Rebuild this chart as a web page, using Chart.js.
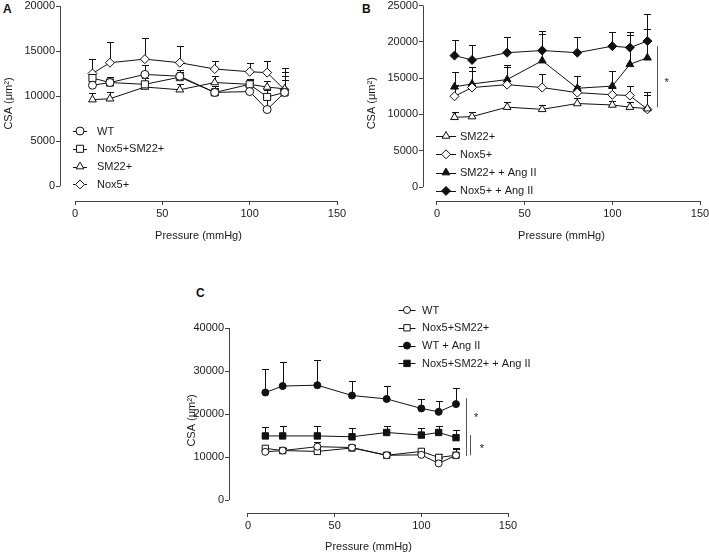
<!DOCTYPE html>
<html>
<head>
<meta charset="UTF-8">
<title>CSA vs pressure</title>
<script src="https://cdn.jsdelivr.net/npm/chart.js"></script>
<style>
  body { margin:0; background:#fff; width:709px; height:553px; overflow:hidden; position:relative; }
  canvas { position:absolute; }
  .tag { position:absolute; font:bold 12px "Liberation Sans", Arial, sans-serif; line-height:12px; color:#111; }
</style>
</head>
<body>
<div class="tag" style="left:3px;top:3px">A</div>
<div class="tag" style="left:362px;top:3px">B</div>
<div class="tag" style="left:196px;top:287px">C</div>
<canvas id="chartA" width="355" height="250" style="left:0;top:0"></canvas>
<canvas id="chartB" width="354" height="250" style="left:355px;top:0"></canvas>
<canvas id="chartC" width="370" height="280" style="left:170px;top:280px"></canvas>

<script>
// pressure steps (mmHg)
const pressure = [10, 20, 40, 60, 80, 100, 110, 120];
const xTicks = [0, 50, 100, 150];
const yTicksA = [0, 5000, 10000, 15000, 20000];
const yTicksB = [0, 5000, 10000, 15000, 20000, 25000];
const yTicksC = [0, 10000, 20000, 30000, 40000];

// means and SEM (upper bar only)
const wtMean      = [11200, 11500, 12400, 12200, 10400, 10500, 8500, 10400];
const wtErr       = [800, 600, 1000, 700, 700, 900, 1300, 1800];
const dblMean     = [12000, 11500, 11300, 12100, 10400, 11300, 9900, 10400];
const dblErr      = [600, 600, 700, 600, 500, 500, 800, 1400];
const smMean      = [9600, 9700, 11000, 10700, 11500, 11300, 11000, 10800];
const smErr       = [700, 700, 700, 600, 700, 600, 700, 1900];
const noxMean     = [12500, 13700, 14100, 13700, 13000, 12700, 12600, 10700];
const noxErr      = [1600, 2300, 2400, 1900, 900, 1000, 1300, 2400];
const smAngMean   = [13800, 14200, 14800, 17400, 13600, 13900, 16900, 17800];
const smAngErr    = [2100, 2300, 2000, 3700, 1700, 2100, 4100, 4000];
const noxAngMean  = [18100, 17500, 18500, 18800, 18500, 19400, 19200, 20100];
const noxAngErr   = [2200, 2000, 2200, 2700, 2100, 2000, 2100, 3700];
const wtAngMean   = [25000, 26500, 26700, 24300, 23500, 21300, 20500, 22300];
const wtAngErr    = [5400, 5700, 5900, 3400, 3100, 2300, 2500, 3700];
const dblAngMean  = [14900, 14900, 14900, 14700, 15700, 15100, 15700, 14500];
const dblAngErr   = [2100, 2200, 2300, 2100, 1500, 1600, 1500, 1800];

// significance brackets: [x, yFrom, yTo] and stars [x, y]
const sigLinesB = [[125.5, 11000, 19400]];
const sigStarsB = [[131, 14800]];
const sigLinesC = [[125.8, 10200, 23700], [128.1, 10400, 15100]];
const sigStarsC = [[131.6, 19800], [135, 12600]];

const INK = '#111';
const AXIS = '#444';
const FONT = '"Liberation Sans", Arial, sans-serif';
Chart.defaults.font.family = FONT;
Chart.defaults.font.size = 11;
Chart.defaults.color = '#1a1a1a';

function series(label, mean, err, style, filled, r) {
    return {
        label: label,
        data: pressure.map((p, i) => ({ x: p, y: mean[i] })),
        errors: err,
        showLine: true,
        borderColor: INK,
        borderWidth: 1,
        tension: 0,
        pointStyle: style,
        pointRadius: r,
        pointBorderWidth: 1,
        pointBorderColor: INK,
        pointBackgroundColor: filled ? INK : '#fff',
        clip: false
    };
}

function marker(ctx, ds, x, y) {
    ctx.fillStyle = ds.pointBackgroundColor;
    ctx.strokeStyle = INK;
    ctx.lineWidth = 1;
    if (Chart.helpers && Chart.helpers.drawPoint) {
        Chart.helpers.drawPoint(ctx, { pointStyle: ds.pointStyle, radius: ds.pointRadius, borderWidth: 1, rotation: 0 }, x, y);
        return;
    }
    const r = ds.pointRadius;
    ctx.beginPath();
    if (ds.pointStyle === 'circle') ctx.arc(x, y, r, 0, Math.PI * 2);
    else if (ds.pointStyle === 'rect') ctx.rect(x - r * 0.707, y - r * 0.707, r * 1.414, r * 1.414);
    else if (ds.pointStyle === 'rectRot') { ctx.moveTo(x, y - r); ctx.lineTo(x + r, y); ctx.lineTo(x, y + r); ctx.lineTo(x - r, y); ctx.closePath(); }
    else { ctx.moveTo(x, y - r); ctx.lineTo(x + r * 0.866, y + r / 2); ctx.lineTo(x - r * 0.866, y + r / 2); ctx.closePath(); }
    ctx.fill(); ctx.stroke();
}

// upward SEM bars with caps, under the markers
const errorBars = {
    id: 'errorBars',
    beforeDatasetsDraw(chart) {
        const ctx = chart.ctx, xs = chart.scales.x, ys = chart.scales.y;
        ctx.save();
        ctx.strokeStyle = INK;
        ctx.lineWidth = 1;
        chart.data.datasets.forEach(ds => {
            ds.data.forEach((pt, i) => {
                const px = Math.round(xs.getPixelForValue(pt.x)) + 0.5;
                const y0 = ys.getPixelForValue(pt.y);
                const y1 = Math.round(ys.getPixelForValue(pt.y + ds.errors[i])) + 0.5;
                ctx.beginPath();
                ctx.moveTo(px, y0); ctx.lineTo(px, y1);
                ctx.moveTo(px - 3.5, y1); ctx.lineTo(px + 3.5, y1);
                ctx.stroke();
            });
        });
        ctx.restore();
    }
};

// detached axis lines, Prism style
const prismAxes = {
    id: 'prismAxes',
    afterDraw(chart) {
        const ctx = chart.ctx, xs = chart.scales.x, ys = chart.scales.y;
        const ax = Math.round(chart.chartArea.left) + 0.5;
        const ay = Math.round(chart.chartArea.bottom) + 0.5;
        ctx.save();
        ctx.strokeStyle = AXIS;
        ctx.lineWidth = 1;
        ctx.beginPath();
        ctx.moveTo(ax, ys.getPixelForValue(0)); ctx.lineTo(ax, ys.getPixelForValue(ys.max));
        ctx.moveTo(xs.getPixelForValue(0), ay); ctx.lineTo(xs.getPixelForValue(xs.max), ay);
        ctx.stroke();
        ctx.restore();
    }
};

// legend with line through marker
const prismLegend = {
    id: 'prismLegend',
    afterDraw(chart, args, o) {
        const ctx = chart.ctx;
        ctx.save();
        chart.data.datasets.forEach((ds, i) => {
            const y = o.y + i * o.gap;
            ctx.strokeStyle = INK;
            ctx.lineWidth = 1;
            ctx.beginPath();
            ctx.moveTo(o.x - o.half, Math.round(y) + 0.5);
            ctx.lineTo(o.x + o.half, Math.round(y) + 0.5);
            ctx.stroke();
            marker(ctx, ds, o.x, y);
            ctx.fillStyle = '#1a1a1a';
            ctx.font = '11px ' + FONT;
            ctx.textBaseline = 'middle';
            ctx.fillText(ds.label, o.textX, y + 0.5);
        });
        ctx.restore();
    }
};

const sigMarks = {
    id: 'sigMarks',
    afterDraw(chart, args, o) {
        if (!o.lines) return;
        const ctx = chart.ctx, xs = chart.scales.x, ys = chart.scales.y;
        ctx.save();
        ctx.strokeStyle = '#555';
        ctx.lineWidth = 1;
        o.lines.forEach(l => {
            const px = Math.round(xs.getPixelForValue(l[0])) + 0.5;
            ctx.beginPath();
            ctx.moveTo(px, ys.getPixelForValue(l[1]));
            ctx.lineTo(px, ys.getPixelForValue(l[2]));
            ctx.stroke();
        });
        ctx.fillStyle = '#1a1a1a';
        ctx.font = '11px ' + FONT;
        ctx.textAlign = 'center';
        ctx.textBaseline = 'middle';
        o.stars.forEach(s => ctx.fillText('*', xs.getPixelForValue(s[0]), ys.getPixelForValue(s[1]) + 3));
        ctx.restore();
    }
};

function scales(c) {
    return {
        x: {
            type: 'linear', min: c.xMin, max: 150,
            afterBuildTicks: s => { s.ticks = xTicks.map(v => ({ value: v })); },
            afterFit: s => { s.height = c.xH; s.paddingLeft = 0; s.paddingRight = 0; },
            border: { display: false },
            grid: { drawOnChartArea: false, drawTicks: true, tickLength: 4, color: AXIS },
            ticks: { autoSkip: false, maxRotation: 0, padding: 2, callback: v => String(v) },
            title: { display: true, text: 'Pressure (mmHg)', padding: { top: 0, bottom: c.xTitlePad } }
        },
        y: {
            min: c.yMin, max: c.yTicks[c.yTicks.length - 1],
            afterBuildTicks: s => { s.ticks = c.yTicks.map(v => ({ value: v })); },
            afterFit: s => { s.width = c.yW; s.paddingTop = 0; s.paddingBottom = 0; },
            border: { display: false },
            grid: { drawOnChartArea: false, drawTicks: true, tickLength: 4, color: AXIS },
            ticks: { autoSkip: false, padding: 1, callback: v => String(v) },
            title: { display: true, text: c.yTitle, padding: { top: c.yTitlePad, bottom: 0 } }
        }
    };
}

function makeChart(id, datasets, c, legend, sig) {
    new Chart(document.getElementById(id), {
        type: 'scatter',
        data: { datasets: datasets },
        options: {
            responsive: false,
            animation: false,
            events: [],
            layout: { padding: c.pad },
            scales: scales(c),
            plugins: {
                legend: { display: false },
                tooltip: { enabled: false },
                prismLegend: legend,
                sigMarks: sig
            }
        },
        plugins: [errorBars, prismAxes, prismLegend, sigMarks]
    });
}

makeChart('chartA', [
    series('WT', wtMean, wtErr, 'circle', false, 4),
    series('Nox5+SM22+', dblMean, dblErr, 'rect', false, 5),
    series('SM22+', smMean, smErr, 'triangle', false, 4.5),
    series('Nox5+', noxMean, noxErr, 'rectRot', false, 4.5)
], { xMin: -8.59, yMin: -1657, yTicks: yTicksA, yW: 60, xH: 49, xTitlePad: 7, yTitlePad: 2,
     yTitle: 'CSA (μm²)', pad: { top: 5, left: 0, right: 18, bottom: 0 } },
   { x: 80, y: 131, gap: 17.8, half: 7, textX: 97 }, {});

makeChart('chartB', [
    series('SM22+', smMean, smErr, 'triangle', false, 4.5),
    series('Nox5+', noxMean, noxErr, 'rectRot', false, 4.5),
    series('SM22+ + Ang II', smAngMean, smAngErr, 'triangle', true, 4.5),
    series('Nox5+ + Ang II', noxAngMean, noxAngErr, 'rectRot', true, 4.5)
], { xMin: -7.98, yMin: -1923, yTicks: yTicksB, yW: 68, xH: 49, xTitlePad: 7, yTitlePad: 10,
     yTitle: 'CSA (μm²)', pad: { top: 5, left: 0, right: 9, bottom: 0 } },
   { x: 91, y: 136, gap: 18.3, half: 10, textX: 105 },
   { lines: sigLinesB, stars: sigStarsB });

makeChart('chartC', [
    series('WT', wtMean, wtErr, 'circle', false, 3.5),
    series('Nox5+SM22+', dblMean, dblErr, 'rect', false, 4.5),
    series('WT + Ang II', wtAngMean, wtAngErr, 'circle', true, 3.5),
    series('Nox5+SM22+ + Ang II', dblAngMean, dblAngErr, 'rect', true, 4.5)
], { xMin: -10.96, yMin: -3023, yTicks: yTicksC, yW: 59, xH: 47, xTitlePad: 6.4, yTitlePad: 15,
     yTitle: 'CSA (μm²)', pad: { top: 48, left: 0, right: 32, bottom: 0 } },
   { x: 237, y: 30, gap: 17.8, half: 8.5, textX: 252 },
   { lines: sigLinesC, stars: sigStarsC });
</script>
</body>
</html>
